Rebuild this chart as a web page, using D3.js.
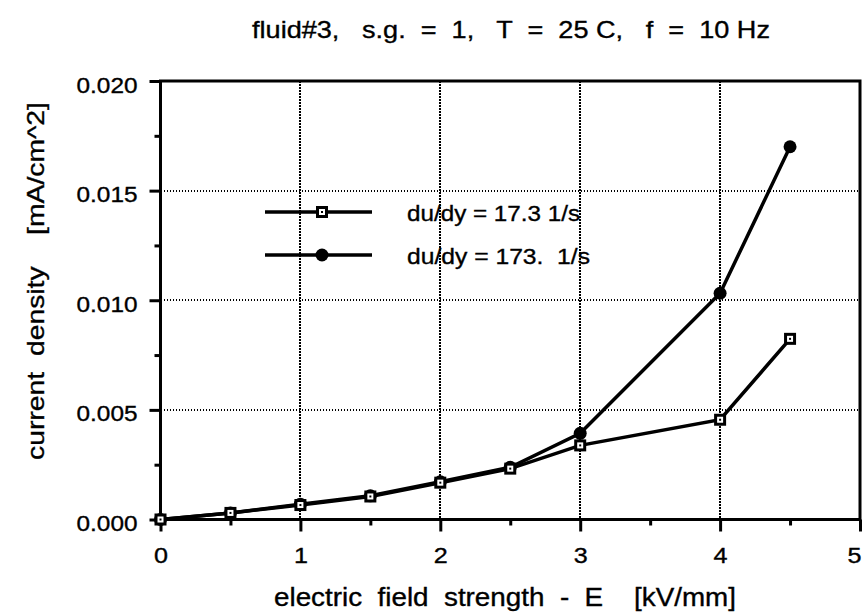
<!DOCTYPE html>
<html>
<head>
<meta charset="utf-8">
<script src="https://cdn.jsdelivr.net/npm/d3@7"></script>
<style>
  html, body { margin: 0; padding: 0; background: #fff; }
  svg { display: block; }
  text { font-family: "Liberation Sans", Arial, Helvetica, sans-serif; fill: #000; white-space: pre;
         stroke: #000; stroke-width: 0.35px; }
</style>
</head>
<body>
<svg id="chart" width="862" height="615"></svg>
<script>
// Electric field strength E [kV/mm]
const fieldE = [0, 0.5, 1, 1.5, 2, 2.5, 3, 4, 4.5];
// Current density [mA/cm^2] for the two shear rates
const densityLow  = [0.0000, 0.0003, 0.00066, 0.00105, 0.00168, 0.00232, 0.00338, 0.00455, 0.00824];
const densityHigh = [0.0000, 0.0003, 0.00070, 0.00108, 0.00172, 0.00238, 0.00393, 0.01032, 0.01700];
const seriesNames = ["du/dy = 17.3 1/s", "du/dy = 173.  1/s"];
const xTicks = [0, 1, 2, 3, 4, 5];
const xMinorTicks = [0.5, 1.5, 2.5, 3.5, 4.5];
const yTicks = [0, 0.005, 0.010, 0.015, 0.020];
const yMinorTicks = [0.0025, 0.0075, 0.0125, 0.0175];
const titleText = "fluid#3,   s.g.  =  1,   T  =  25 C,   f  =  10 Hz";
const xLabel = "electric  field  strength  -  E    [kV/mm]";
const yLabel = "current  density    [mA/cm^2]";

const svg = d3.select("#chart");
const plotLeft = 160.5, plotRight = 860, plotTop = 81, plotBottom = 519.5;

const x = d3.scaleLinear().domain([0, 5]).range([plotLeft, plotRight]);
const y = d3.scaleLinear().domain([0, 0.020]).range([plotBottom, plotTop]);

// dotted grid lines, snapped to whole pixels so the dots stay crisp
const grid = svg.append("g").attr("stroke", "#000").attr("stroke-width", 2)
  .attr("stroke-dasharray", "1.5,1.5").attr("shape-rendering", "crispEdges");
grid.selectAll("line.gx").data(xTicks.filter(d => d > 0 && d < 5)).join("line")
  .attr("x1", d => Math.round(x(d))).attr("x2", d => Math.round(x(d)))
  .attr("y1", plotTop).attr("y2", plotBottom);
grid.selectAll("line.gy").data(yTicks.filter(d => d > 0 && d < 0.020)).join("line")
  .attr("x1", plotLeft).attr("x2", plotRight)
  .attr("y1", d => Math.round(y(d))).attr("y2", d => Math.round(y(d)));

// axes
const xAxis = svg.append("g").attr("transform", `translate(0,${plotBottom})`)
  .call(d3.axisBottom(x).tickValues(xTicks).tickFormat(d3.format("d")).tickSize(12).tickPadding(16));
const xMinor = svg.append("g").attr("transform", `translate(0,${plotBottom})`)
  .call(d3.axisBottom(x).tickValues(xMinorTicks).tickFormat("").tickSize(6));
const yAxis = svg.append("g").attr("transform", `translate(${plotLeft},0)`)
  .call(d3.axisLeft(y).tickValues(yTicks).tickFormat(d3.format(".3f")).tickSize(11).tickPadding(12));
const yMinor = svg.append("g").attr("transform", `translate(${plotLeft},0)`)
  .call(d3.axisLeft(y).tickValues(yMinorTicks).tickFormat("").tickSize(6));

[xAxis, xMinor, yAxis, yMinor].forEach(g => {
  g.select(".domain").remove();
  g.selectAll(".tick line").attr("stroke", "#000").attr("stroke-width", 3);
  g.selectAll(".tick text").attr("font-size", 22).attr("fill", "#000");
});
// the last x label sits at the right edge, so anchor it inside the page
xAxis.selectAll(".tick text").attr("textLength", 14).attr("lengthAdjust", "spacingAndGlyphs")
  .filter(d => d === 5).attr("text-anchor", "end").attr("dx", 1);
yAxis.selectAll(".tick text").attr("dy", "0.5em").attr("textLength", 61).attr("lengthAdjust", "spacingAndGlyphs");

// plot frame
svg.append("rect").attr("x", plotLeft).attr("y", plotTop)
  .attr("width", plotRight - plotLeft).attr("height", plotBottom - plotTop)
  .attr("fill", "none").attr("stroke", "#000").attr("stroke-width", 3);

// series lines
const line = d3.line().x((d, i) => x(fieldE[i])).y(d => y(d));
svg.append("path").datum(densityLow).attr("d", line)
  .attr("fill", "none").attr("stroke", "#000").attr("stroke-width", 3.5);
svg.append("path").datum(densityHigh).attr("d", line)
  .attr("fill", "none").attr("stroke", "#000").attr("stroke-width", 3.5);

function squareMarker(g, cx, cy) {
  g.append("rect").attr("x", cx - 6).attr("y", cy - 6).attr("width", 12).attr("height", 12).attr("fill", "#000");
  g.append("rect").attr("x", cx - 3).attr("y", cy - 3).attr("width", 6).attr("height", 6).attr("fill", "#fff");
  g.append("rect").attr("x", cx - 1).attr("y", cy - 1).attr("width", 2).attr("height", 2).attr("fill", "#000");
}
function dotMarker(g, cx, cy) {
  g.append("circle").attr("cx", cx).attr("cy", cy).attr("r", 6.5).attr("fill", "#000");
}

const markers = svg.append("g");
densityHigh.forEach((v, i) => dotMarker(markers, x(fieldE[i]), y(v)));
densityLow.forEach((v, i) => squareMarker(markers, x(fieldE[i]), y(v)));

// legend
const legend = svg.append("g");
const legendRows = [212, 255];
const legendWidths = [173, 183];
legendRows.forEach((ly, i) => {
  legend.append("line").attr("x1", 265).attr("x2", 372).attr("y1", ly).attr("y2", ly)
    .attr("stroke", "#000").attr("stroke-width", 3.5);
  if (i === 0) squareMarker(legend, 322, ly); else dotMarker(legend, 322, ly);
  legend.append("text").attr("x", 407).attr("y", ly + 9).attr("font-size", 22)
    .attr("textLength", legendWidths[i]).attr("lengthAdjust", "spacingAndGlyphs")
    .text(seriesNames[i]);
});

// title and axis labels
svg.append("text").attr("x", 252).attr("y", 38)
  .attr("font-size", 24).attr("textLength", 518).attr("lengthAdjust", "spacingAndGlyphs")
  .text(titleText);
svg.append("text").attr("x", 274).attr("y", 606)
  .attr("font-size", 25).attr("textLength", 462).attr("lengthAdjust", "spacingAndGlyphs")
  .text(xLabel);
svg.append("text").attr("transform", `translate(44,460) rotate(-90)`)
  .attr("font-size", 24).attr("textLength", 358).attr("lengthAdjust", "spacingAndGlyphs")
  .text(yLabel);
</script>
</body>
</html>
